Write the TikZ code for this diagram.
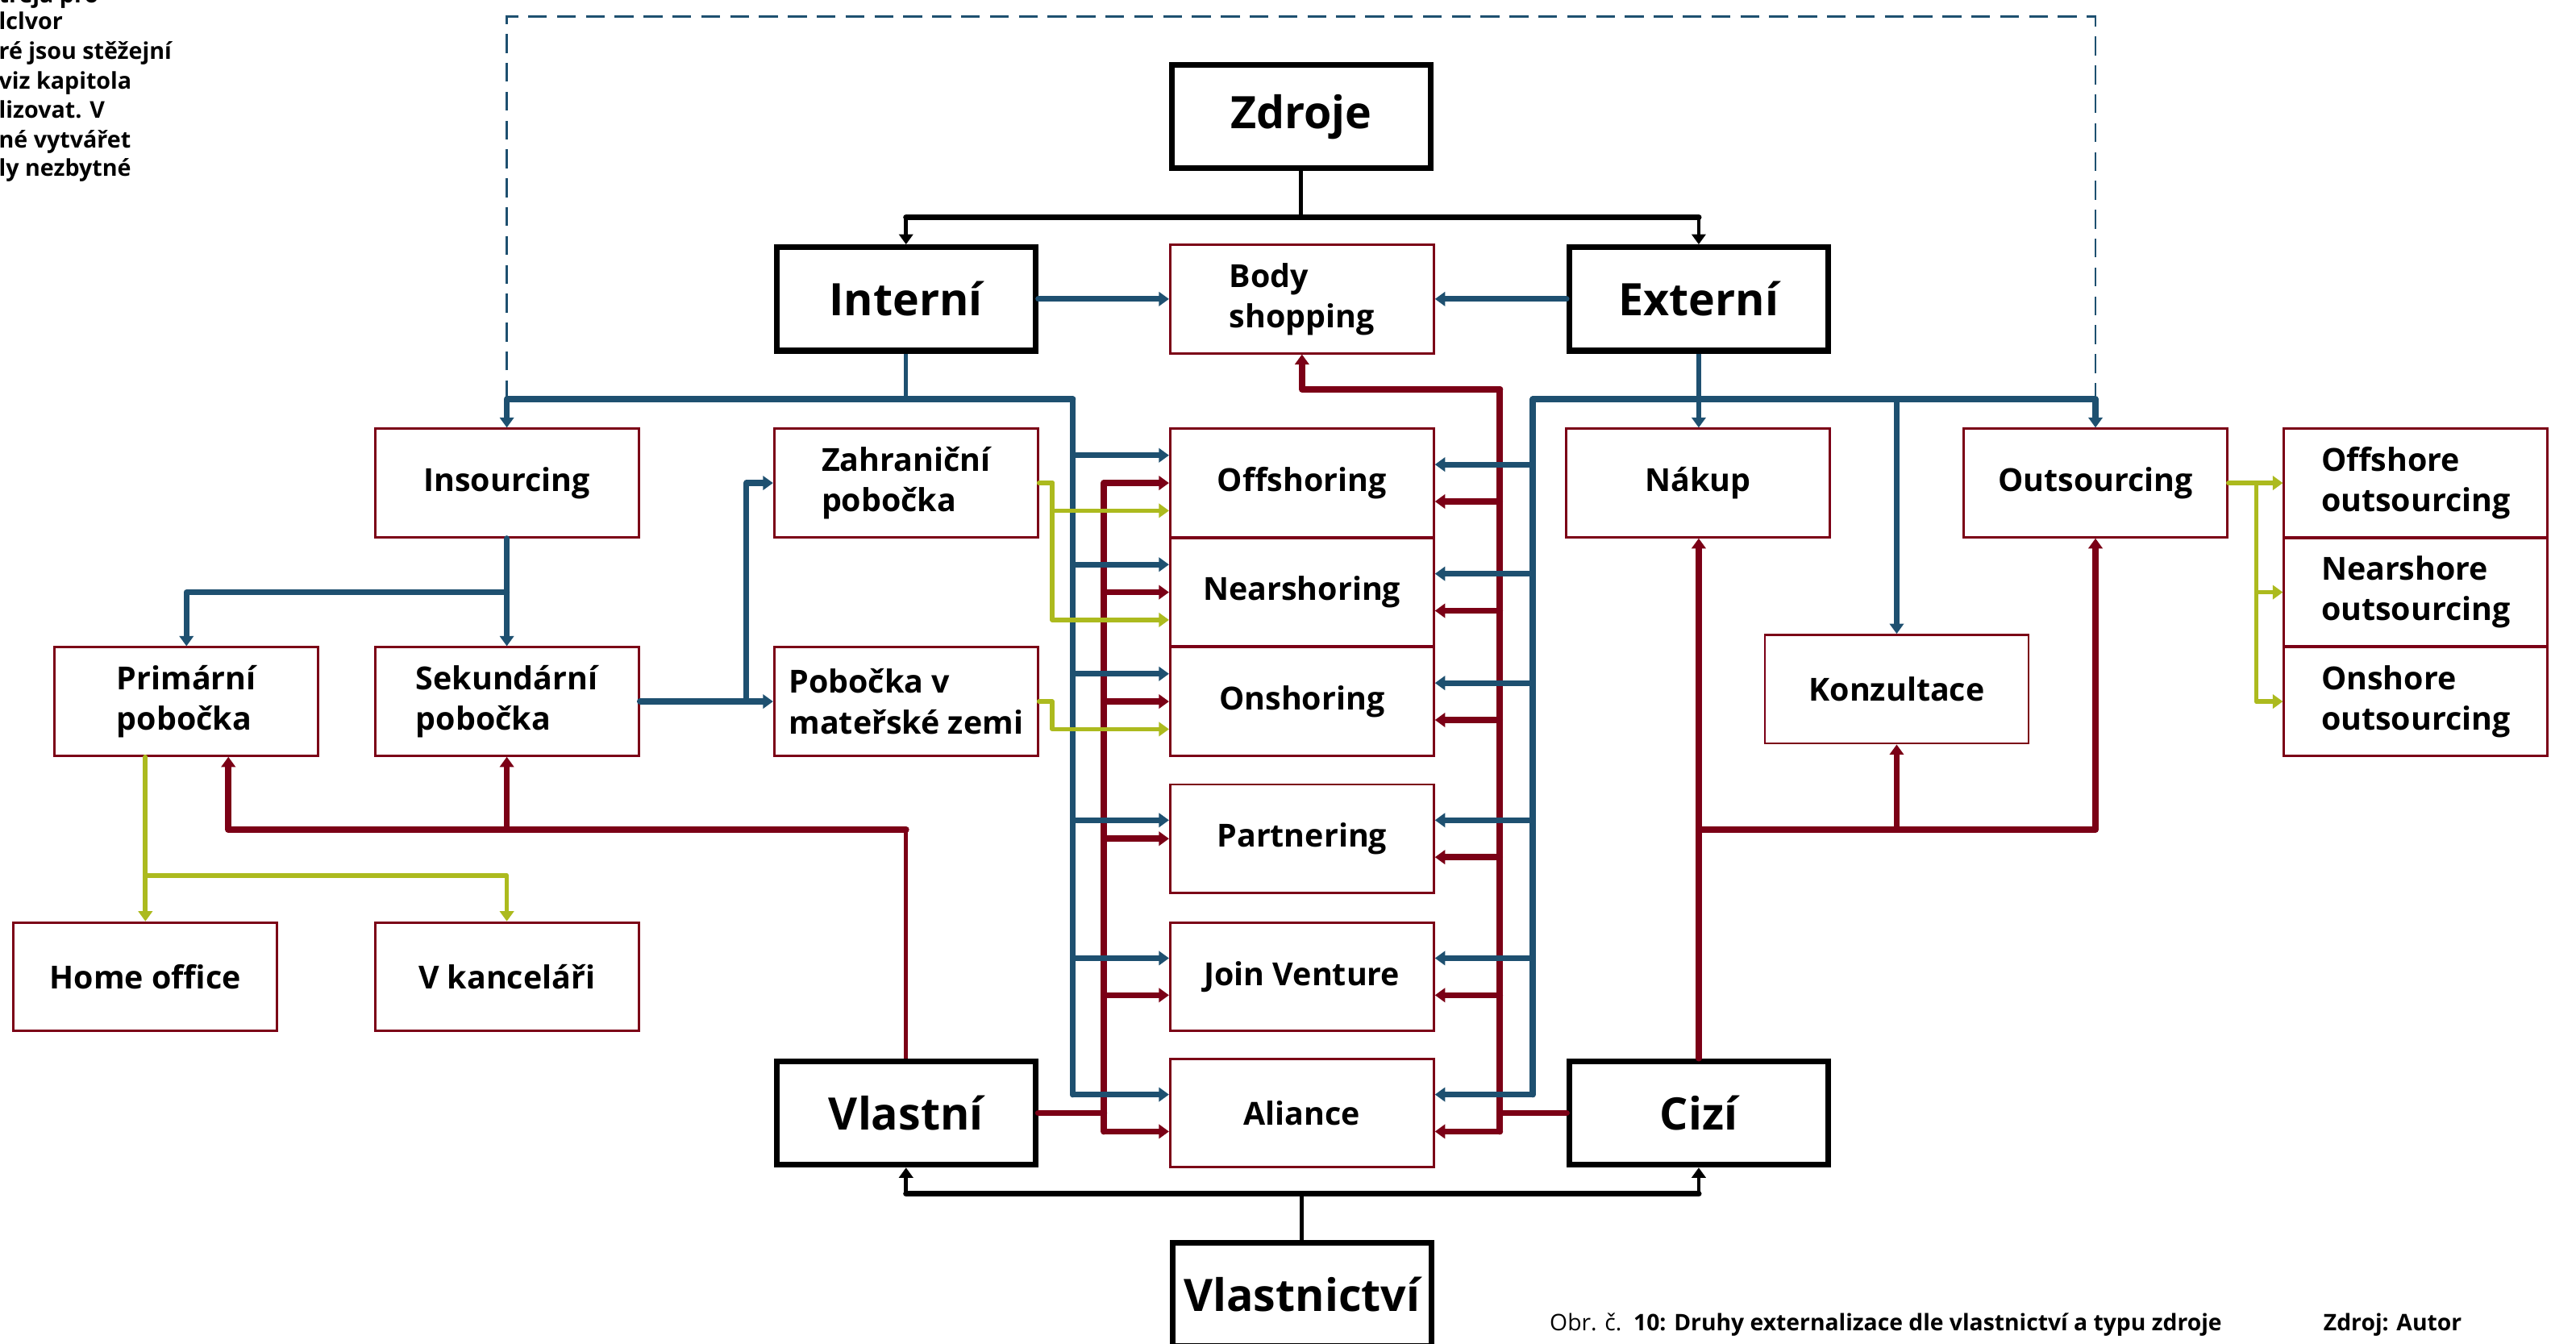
\documentclass[tikz,border=0pt]{standalone}
\usepackage{fontspec}
\setmainfont{Open Sans}
\usetikzlibrary{arrows.meta,calc}

\definecolor{vblue}{RGB}{30,80,112}
\definecolor{vred}{RGB}{123,0,22}
\definecolor{vgreen}{RGB}{172,186,30}

\tikzset{
  bigbox/.style={draw=black, line width=2pt, minimum width=3.15cm, minimum height=1.26cm, inner sep=2pt, font=\fontsize{15.5}{18}\selectfont\bfseries},
  smallbox/.style={draw=vred, line width=0.8pt, minimum width=3.21cm, minimum height=1.32cm, inner sep=2pt, align=left, font=\fontsize{11}{14}\selectfont\bfseries},
  arrowtip/.style={-{Triangle[length=3.5pt,width=4.8pt]}},
  blackbus/.style={draw=black, line width=2pt, line cap=round},
  blackthin/.style={draw=black, line width=1.4pt},
  blackarr/.style={draw=black, line width=1.3pt, arrowtip},
  bluebus/.style={draw=vblue, line width=2.1pt, line cap=round, line join=round},
  bluethin/.style={draw=vblue, line width=1.5pt},
  bluearr/.style={draw=vblue, line width=2pt, line cap=round, line join=round, arrowtip},
  redbus/.style={draw=vred, line width=2.2pt, line cap=round, line join=round},
  redthin/.style={draw=vred, line width=1.4pt},
  redarr/.style={draw=vred, line width=2.1pt, line cap=round, line join=round, arrowtip},
  greenline/.style={draw=vgreen, line width=1.6pt, line cap=round, line join=round},
  greenarr/.style={greenline, arrowtip},
  dashline/.style={draw=vblue, line width=0.8pt, dash pattern=on 6.5pt off 3.5pt},
  straytext/.style={anchor=base west, inner sep=0pt, font=\fontsize{8}{10}\selectfont\bfseries},
  captiontext/.style={anchor=base west, inner sep=0pt, font=\fontsize{7.9}{9.5}\selectfont}
}

\begin{document}
\begin{tikzpicture}[x=0.02cm, y=-0.02cm]
\useasboundingbox (0,0) rectangle (1568,818);

%text of the page behind
\foreach \t/\y [count=\i] in {treja pro/1.5, lclvor/18, ré jsou stěžejní/36, viz kapitola/54, lizovat. V/72, né vytvářet/90, ly nezbytné/107}
  \node[straytext] (stray\i) at (-1,\y) {\t};

%top level
\node[bigbox] (zdroje) at (792,71) {Zdroje};
\node[bigbox] (interni) at (551.5,182) {Interní};
\node[smallbox] (bodyshop) at (792.5,182) {Body\\shopping};
\node[bigbox] (externi) at (1034,182) {Externí};

%row 1
\node[smallbox] (insourcing) at (308.5,294) {Insourcing};
\node[smallbox] (zahranicni) at (551.5,294) {Zahraniční\\pobočka};
\node[smallbox] (offshoring) at (792.5,294) {Offshoring};
\node[smallbox] (nakup) at (1033.5,294) {Nákup};
\node[smallbox] (outsourcing) at (1275.5,294) {Outsourcing};
\node[smallbox] (offout) at (1470.5,294) {Offshore\\outsourcing};

%row 2
\node[smallbox] (nearshoring) at (792.5,360.5) {Nearshoring};
\node[smallbox] (nearout) at (1470.5,360.5) {Nearshore\\outsourcing};

%row 3
\node[smallbox] (primarni) at (113.5,427) {Primární\\pobočka};
\node[smallbox] (sekundarni) at (308.5,427) {Sekundární\\pobočka};
\node[smallbox] (pobocka) at (551.5,427) {Pobočka v\\mateřské zemi};
\node[smallbox] (onshoring) at (792.5,427) {Onshoring};
\node[smallbox] (onout) at (1470.5,427) {Onshore\\outsourcing};
\node[smallbox] (konzultace) at (1154.5,419.5) {Konzultace};

%lower part
\node[smallbox] (partnering) at (792.5,510.5) {Partnering};
\node[smallbox] (jv) at (792.5,594.5) {Join Venture};
\node[smallbox] (homeoffice) at (88.5,594.5) {Home office};
\node[smallbox] (vkancelari) at (308.5,594.5) {V kanceláři};
\node[smallbox] (aliance) at (792.5,677.5) {Aliance};
\node[bigbox] (vlastni) at (551.5,677.5) {Vlastní};
\node[bigbox] (cizi) at (1034,677.5) {Cizí};
\node[bigbox] (vlastnictvi) at (792.5,788) {Vlastnictví};

%caption
\node[captiontext] (caption) at (943,810) {Obr. č.\ \ \textbf{10: Druhy externalizace dle vlastnictví a typu zdroje}};
\node[captiontext] (source) at (1414,810) {\textbf{Zdroj: Autor}};

%Zdroje split
\draw[blackthin] (zdroje.south) -- ++(0,28) coordinate (zsplit);
\draw[blackbus] (interni.north |- zsplit) -- (externi.north |- zsplit);
\draw[blackarr] (interni.north |- zsplit) -- (interni.north);
\draw[blackarr] (externi.north |- zsplit) -- (externi.north);

%Vlastnictvi split
\draw[blackthin] (vlastnictvi.north) -- ++(0,-28) coordinate (vsplit);
\draw[blackbus] (vlastni.south |- vsplit) -- (cizi.south |- vsplit);
\draw[blackarr] (vlastni.south |- vsplit) -- (vlastni.south);
\draw[blackarr] (cizi.south |- vsplit) -- (cizi.south);

%body shopping
\draw[bluearr] (interni.east) -- (bodyshop.west);
\draw[bluearr] (externi.west) -- (bodyshop.east);

%helper points
\coordinate (bl) at (653,243);
\coordinate (br) at (933,243);
\coordinate (rl) at (672,294);
\coordinate (rr) at (913,237);
\coordinate (y505) at (0,505);
\coordinate (y533) at (0,533);
\coordinate (alb) at ($(aliance.north west)!.333!(aliance.south west)$);
\coordinate (alr) at ($(aliance.north west)!.667!(aliance.south west)$);
\coordinate (aeb) at ($(aliance.north east)!.333!(aliance.south east)$);
\coordinate (aer) at ($(aliance.north east)!.667!(aliance.south east)$);

%dashed frame
\draw[dashline] (insourcing.north |- bl) -- ++(0,-233) -| (outsourcing.north |- br);

%red buses
\draw[redbus, arrowtip] (rr) -| (bodyshop.south);
\draw[redbus] (rr) -- (rr |- aer);
\draw[redbus] (rl) -- (rl |- alr);
\draw[redbus] (vlastni.east) -- (vlastni.east -| rl);
\draw[redbus] (cizi.west) -- (cizi.west -| rr);

%blue buses
\draw[bluethin] (interni.south) -- (interni.south |- bl);
\draw[bluebus, arrowtip] (bl) -| (insourcing.north);
\draw[bluebus] (bl) -- (bl |- alb);
\draw[bluethin, arrowtip] (externi.south) -- (externi.south |- nakup.north);
\draw[bluebus] (br) -- (outsourcing.north |- br);
\draw[bluebus] (br) -- (br |- aeb);
\draw[bluearr] (outsourcing.north |- br) -- (outsourcing.north);
\draw[bluearr] (konzultace.north |- br) -- (konzultace.north);

%middle column
\foreach \n/\fb/\fr in {offshoring/.25/.5, nearshoring/.25/.5, onshoring/.25/.5, partnering/.333/.5, jv/.333/.667, aliance/.333/.667}{
  \coordinate (lb) at ($(\n.north west)!\fb!(\n.south west)$);
  \coordinate (lr) at ($(\n.north west)!\fr!(\n.south west)$);
  \coordinate (eb) at ($(\n.north east)!.333!(\n.south east)$);
  \coordinate (er) at ($(\n.north east)!.667!(\n.south east)$);
  \draw[redarr] (rl |- lr) -- (lr);
  \draw[bluearr] (bl |- lb) -- (lb);
  \draw[redarr] (rr |- er) -- (er);
  \draw[bluearr] (br |- eb) -- (eb);
}

%insourcing tree
\coordinate (insplit) at ($(insourcing.south)!.5!(sekundarni.north)$);
\draw[bluearr] (insourcing.south) -- (sekundarni.north);
\draw[bluearr] (insplit) -| (primarni.north);
\coordinate (sksplit) at ($(sekundarni.east)!.8!(pobocka.west)$);
\draw[bluearr] (sekundarni.east) -- (pobocka.west);
\draw[bluearr] (sksplit) |- (zahranicni.west);

%ownership: vlastni
\coordinate (rv) at (vlastni.north |- y505);
\coordinate (prin) at ($(primarni.south)+(25.5,0)$);
\draw[redthin] (vlastni.north) -- (rv);
\draw[redbus, arrowtip] (rv) -| (prin);
\draw[redarr] (sekundarni.south |- rv) -- (sekundarni.south);

%ownership: cizi
\coordinate (rc) at (cizi.north |- y505);
\draw[redarr] (cizi.north) -- (cizi.north |- nakup.south);
\draw[redbus, arrowtip] (rc) -| (outsourcing.south);
\draw[redarr] (konzultace.south |- rc) -- (konzultace.south);

%green: primarni
\coordinate (prout) at ($(primarni.south)+(-25,0)$);
\draw[greenarr] (prout) -- (prout |- homeoffice.north);
\draw[greenarr] (prout |- y533) -| (vkancelari.north);

%green: pobocky
\coordinate (gz) at ($(zahranicni.east)+(8,0)$);
\draw[greenline] (zahranicni.east) -- (gz);
\draw[greenarr] (gz) |- ($(offshoring.north west)!.75!(offshoring.south west)$);
\draw[greenarr] (gz) |- ($(nearshoring.north west)!.75!(nearshoring.south west)$);
\draw[greenarr] (pobocka.east) -- ++(8,0) |- ($(onshoring.north west)!.75!(onshoring.south west)$);

%green: outsourcing
\coordinate (go) at ($(outsourcing.east)+(17,0)$);
\draw[greenarr] (outsourcing.east) -- (offout.west);
\draw[greenarr] (go) |- (nearout.west);
\draw[greenarr] (go) |- (onout.west);
\end{tikzpicture}
\end{document}
